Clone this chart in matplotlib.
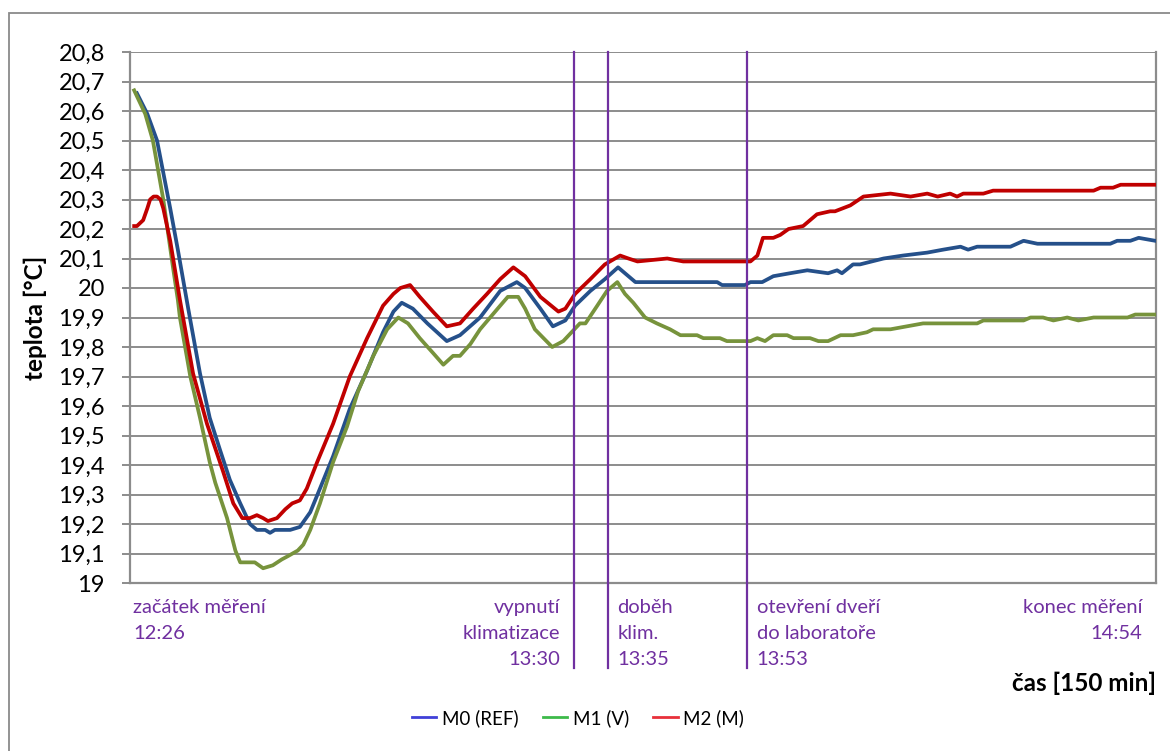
import matplotlib
matplotlib.use("Agg")
import matplotlib.pyplot as plt
from matplotlib.lines import Line2D
from matplotlib.patches import Rectangle
from matplotlib.ticker import FuncFormatter, MultipleLocator
import matplotlib.transforms as mtransforms

plt.rcParams['font.family'] = ['Lato', 'DejaVu Sans']

# cas od zacatku mereni [min] a teplota [°C]
t_m0 = [1.0, 2.5, 3.9, 5.8, 6.9, 8.4, 10.1, 11.5, 13.0, 14.4, 15.9, 17.3, 18.3, 19.5, 20.2, 20.9,
        23.1, 24.5, 26.0, 27.4, 29.3, 31.7, 34.2, 36.5, 38.0, 39.2, 40.8, 42.9, 45.7, 47.6, 50.5,
        53.4, 55.8, 57.0, 59.2, 61.0, 62.8, 64.2, 66.4, 68.5, 70.4, 71.4, 72.9, 84.7, 85.4, 88.7,
        89.5, 91.2, 92.8, 95.2, 97.7, 100.7, 102.0, 102.7, 104.3, 105.3, 108.7, 111.5, 115.0,
        117.3, 119.8, 120.9, 122.2, 127.0, 128.9, 130.9, 137.5, 141.4, 142.4, 144.3, 145.5, 147.9]
m0 = [20.66, 20.59, 20.50, 20.27, 20.13, 19.93, 19.71, 19.56, 19.45, 19.35, 19.27, 19.20, 19.18,
      19.18, 19.17, 19.18, 19.18, 19.19, 19.24, 19.32, 19.43, 19.59, 19.72, 19.85, 19.92, 19.95,
      19.93, 19.88, 19.82, 19.84, 19.90, 19.99, 20.02, 20.00, 19.93, 19.87, 19.89, 19.94, 19.99,
      20.03, 20.07, 20.05, 20.02, 20.02, 20.01, 20.01, 20.02, 20.02, 20.04, 20.05, 20.06, 20.05,
      20.06, 20.05, 20.08, 20.08, 20.10, 20.11, 20.12, 20.13, 20.14, 20.13, 20.14, 20.14, 20.16,
      20.15, 20.15, 20.15, 20.16, 20.16, 20.17, 20.16]

t_m1 = [0.6, 2.2, 3.3, 4.8, 6.2, 6.9, 7.2, 8.7, 10.1, 11.5, 12.3, 14.0, 15.2, 15.9, 18.0, 19.2,
        20.6, 21.9, 22.7, 24.2, 25.0, 26.0, 27.4, 29.3, 31.3, 32.9, 35.1, 37.1, 38.7, 40.1, 41.8,
        43.7, 45.2, 46.6, 47.6, 49.1, 50.5, 53.4, 54.5, 56.0, 57.0, 58.4, 60.9, 62.5, 64.9, 65.7,
        67.4, 68.8, 70.3, 71.4, 72.6, 74.3, 76.0, 77.9, 79.4, 81.8, 82.7, 85.1, 86.1, 89.5, 90.5,
        91.6, 92.8, 94.8, 95.7, 98.1, 99.3, 100.7, 102.5, 104.3, 106.3, 107.2, 109.7, 114.4,
        122.2, 123.1, 128.9, 129.9, 131.7, 133.2, 135.2, 136.8, 139.0, 143.9, 145.0, 147.9]
m1 = [20.67, 20.59, 20.50, 20.30, 20.07, 19.96, 19.90, 19.70, 19.56, 19.41, 19.34, 19.22, 19.11,
      19.07, 19.07, 19.05, 19.06, 19.08, 19.09, 19.11, 19.13, 19.18, 19.27, 19.41, 19.53, 19.65,
      19.77, 19.86, 19.90, 19.88, 19.83, 19.78, 19.74, 19.77, 19.77, 19.81, 19.86, 19.94, 19.97,
      19.97, 19.93, 19.86, 19.80, 19.82, 19.88, 19.88, 19.94, 19.99, 20.02, 19.98, 19.95, 19.90,
      19.88, 19.86, 19.84, 19.84, 19.83, 19.83, 19.82, 19.82, 19.83, 19.82, 19.84, 19.84, 19.83,
      19.83, 19.82, 19.82, 19.84, 19.84, 19.85, 19.86, 19.86, 19.88, 19.88, 19.89, 19.89, 19.90,
      19.90, 19.89, 19.90, 19.89, 19.90, 19.90, 19.91, 19.91]

t_m2 = [0.6, 1.0, 1.9, 2.5, 2.9, 3.4, 3.9, 4.4, 4.8, 5.8, 7.2, 9.1, 11.1, 13.4, 14.9, 16.2, 17.3,
        18.3, 19.2, 19.9, 21.2, 22.4, 23.4, 24.5, 25.5, 27.0, 29.3, 31.7, 34.2, 36.5, 38.0, 39.0,
        40.4, 41.8, 43.7, 45.7, 47.6, 49.5, 51.5, 53.4, 55.3, 57.0, 59.2, 61.8, 62.8, 64.2, 66.4,
        68.5, 70.7, 71.9, 73.2, 77.5, 79.8, 88.5, 89.5, 90.5, 91.3, 92.8, 93.8, 95.0, 97.1, 99.1,
        101.0, 101.7, 103.9, 105.8, 109.7, 112.6, 115.0, 116.5, 118.3, 119.3, 120.2, 123.1, 124.5,
        139.0, 140.0, 141.8, 142.9, 147.9]
m2 = [20.21, 20.21, 20.23, 20.27, 20.30, 20.31, 20.31, 20.30, 20.27, 20.16, 19.96, 19.71, 19.54,
      19.38, 19.27, 19.22, 19.22, 19.23, 19.22, 19.21, 19.22, 19.25, 19.27, 19.28, 19.32, 19.41,
      19.54, 19.70, 19.83, 19.94, 19.98, 20.00, 20.01, 19.97, 19.92, 19.87, 19.88, 19.93, 19.98,
      20.03, 20.07, 20.04, 19.97, 19.92, 19.93, 19.98, 20.03, 20.08, 20.11, 20.10, 20.09, 20.10,
      20.09, 20.09, 20.09, 20.11, 20.17, 20.17, 20.18, 20.20, 20.21, 20.25, 20.26, 20.26, 20.28,
      20.31, 20.32, 20.31, 20.32, 20.31, 20.32, 20.31, 20.32, 20.32, 20.33, 20.33, 20.34, 20.34,
      20.35, 20.35]

# udalosti behem mereni
event_min = [64, 69, 89]
start_txt = 'začátek měření\n12:26'
end_txt = 'konec měření\n14:54'
event_txt = ['vypnutí\nklimatizace\n13:30', 'doběh\nklim.\n13:35', 'otevření dveří\ndo laboratoře\n13:53']

PURPLE = '#7030A0'
GRID = '#8c8c8c'

fig = plt.figure(figsize=(11.7, 7.51), dpi=100)
fig.patches.append(Rectangle((9/1170, -0.1), 1.2, 1 - 13/751 + 0.1, transform=fig.transFigure,
                             fill=False, edgecolor='#8a8a8a', linewidth=1.3))
ax = fig.add_axes([130/1170, 1 - 583/751, 1026/1170, 531/751])

ax.plot(t_m0, m0, color='#25508A', linewidth=2.7, solid_joinstyle='round', zorder=3)
ax.plot(t_m1, m1, color='#77933C', linewidth=2.7, solid_joinstyle='round', zorder=3)
ax.plot(t_m2, m2, color='#C00000', linewidth=2.7, solid_joinstyle='round', zorder=3)

ax.set_xlim(0, 148)
ax.set_ylim(19, 20.8)
ax.yaxis.set_major_locator(MultipleLocator(0.1))
ax.yaxis.set_major_formatter(FuncFormatter(
    lambda v, p: (f'{v:.1f}'.replace('.', ',')).replace(',0', '')))
ax.grid(axis='y', color=GRID, linewidth=1.4)
ax.set_axisbelow(True)
ax.set_xticks([])
ax.tick_params(axis='y', length=6, width=1.4, color=GRID, labelsize=17, pad=12)
for s in ['left', 'bottom', 'right']:
    ax.spines[s].set_color(GRID)
    ax.spines[s].set_linewidth(1.6)
ax.spines['top'].set_visible(False)

# svisle cary udalosti, presahuji pod osu
for m in event_min:
    ax.axvline(m, ymin=-0.16, ymax=1, color=PURPLE, linewidth=1.6, clip_on=False, zorder=4)

trans = mtransforms.blended_transform_factory(ax.transData, ax.transAxes)
ty = -0.03
kw = dict(transform=trans, color=PURPLE, fontsize=14.5, va='top', linespacing=1.65)
ax.text(0.5, ty, start_txt, ha='left', **kw)
ax.text(146, ty, end_txt, ha='right', multialignment='right', **kw)
ax.text(event_min[0] - 2, ty, event_txt[0], ha='right', multialignment='right', **kw)
ax.text(event_min[1] + 1.3, ty, event_txt[1], ha='left', **kw)
ax.text(event_min[2] + 1.4, ty, event_txt[2], ha='left', **kw)

fig.text(35/1170, 1 - 318/751, 'teplota [°C]', rotation=90, fontsize=17.5, fontweight='bold',
         ha='center', va='center')
fig.text(1156/1170, 1 - 691/751, 'čas [150 min]', fontsize=17.5, fontweight='bold',
         ha='right', va='baseline')

handles = [Line2D([], [], color='#4040D8', linewidth=2),
           Line2D([], [], color='#3DBA4A', linewidth=2),
           Line2D([], [], color='#E8303A', linewidth=2)]
fig.legend(handles, ['M0 (REF)', 'M1 (V)', 'M2 (M)'], loc='center', ncol=3,
           bbox_to_anchor=(578/1170, 1 - 718/751), frameon=False, fontsize=13.5,
           handlelength=1.3, handletextpad=0.3, columnspacing=1.3)

fig.savefig('out.png', dpi=100)
